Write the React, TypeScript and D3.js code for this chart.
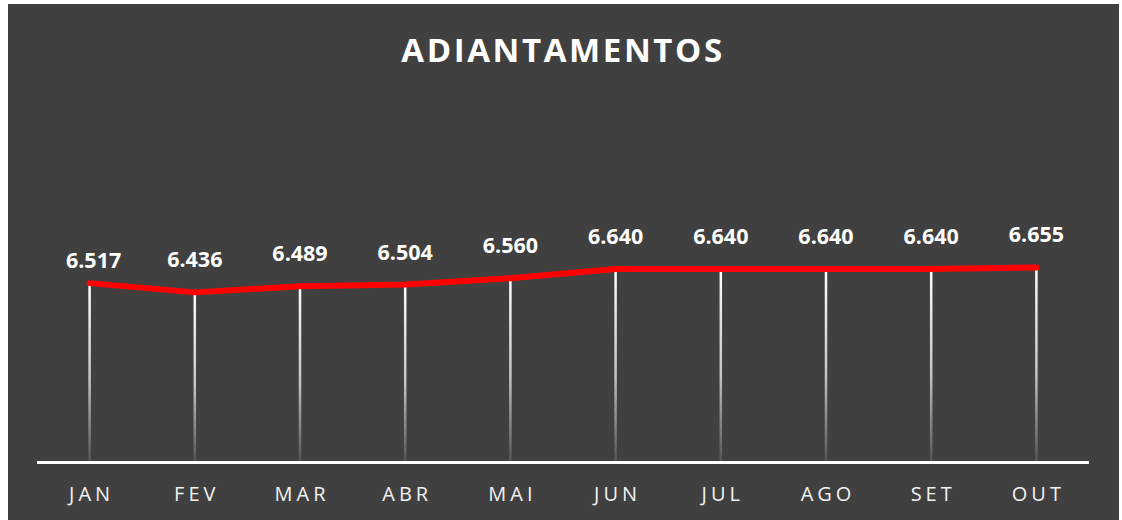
import React, { useEffect, useRef } from 'react';
import * as d3 from 'd3';

const months = ['JAN', 'FEV', 'MAR', 'ABR', 'MAI', 'JUN', 'JUL', 'AGO', 'SET', 'OUT'];
const values = [6.517, 6.436, 6.489, 6.504, 6.56, 6.64, 6.64, 6.64, 6.64, 6.655];
const yDomain = [4.95, 7];

const W = 1122;
const H = 520;

const App = () => {
  const svgRef = useRef<SVGSVGElement>(null);

  useEffect(() => {
    const svg = d3.select(svgRef.current);
    svg.selectAll('*').remove();

    const fmt = d3.format('.3f');

    // chart background (page is offset a bit, like the original export)
    svg.append('rect')
      .attr('x', 8).attr('y', 4)
      .attr('width', 1111).attr('height', H - 4)
      .attr('fill', '#404040');

    const defs = svg.append('defs');
    const grad = defs.append('linearGradient')
      .attr('id', 'dropGrad')
      .attr('x1', 0).attr('y1', 0).attr('x2', 0).attr('y2', 1);
    grad.append('stop').attr('offset', '0%').attr('stop-color', '#ffffff');
    grad.append('stop').attr('offset', '55%').attr('stop-color', '#c4c4c4');
    grad.append('stop').attr('offset', '100%').attr('stop-color', '#555555');

    const x = d3.scaleBand<string>()
      .domain(months)
      .range([37, 1089]);

    const y = d3.scaleLinear()
      .domain(yDomain)
      .range([462, 228]);

    const cx = (m: string) => (x(m) ?? 0) + x.bandwidth() / 2;

    // title
    svg.append('text')
      .attr('x', 563)
      .attr('y', 62)
      .attr('text-anchor', 'middle')
      .style('font', 'bold 33px "Open Sans", sans-serif')
      .style('letter-spacing', '2.6px')
      .attr('fill', '#ffffff')
      .text('ADIANTAMENTOS');

    // drop lines
    svg.append('g')
      .selectAll('rect')
      .data(values)
      .join('rect')
      .attr('x', (d, i) => cx(months[i]) - 1.25)
      .attr('y', d => y(d))
      .attr('width', 2.5)
      .attr('height', d => 461 - y(d))
      .attr('fill', 'url(#dropGrad)');

    // axis line
    svg.append('line')
      .attr('x1', 37).attr('x2', 1089)
      .attr('y1', 462.5).attr('y2', 462.5)
      .attr('stroke', '#ffffff')
      .attr('stroke-width', 3);

    // month labels
    svg.append('g')
      .selectAll('text')
      .data(months)
      .join('text')
      .attr('x', d => cx(d) + 2)
      .attr('y', 501)
      .attr('text-anchor', 'middle')
      .style('font', '20px "Open Sans", sans-serif')
      .style('letter-spacing', '4px')
      .attr('fill', '#f2f2f2')
      .text(d => d);

    // red line
    const line = d3.line<number>()
      .x((d, i) => cx(months[i]))
      .y(d => y(d));

    svg.append('path')
      .datum(values)
      .attr('d', line)
      .attr('fill', 'none')
      .attr('stroke', '#ff0000')
      .attr('stroke-width', 6)
      .attr('stroke-linejoin', 'round')
      .attr('stroke-linecap', 'round');

    // value labels
    svg.append('g')
      .selectAll('text')
      .data(values)
      .join('text')
      .attr('x', (d, i) => cx(months[i]) + (i === 0 ? 4 : 0))
      .attr('y', (d, i) => y(d) - (i === 0 ? 15 : 25))
      .attr('text-anchor', 'middle')
      .style('font', 'bold 21.5px "Open Sans", sans-serif')
      .attr('fill', '#ffffff')
      .text(d => fmt(d));
  }, []);

  return (
    <svg
      ref={svgRef}
      width={W}
      height={H}
      style={{ position: 'absolute', left: 0, top: 0, display: 'block' }}
    />
  );
};

export default App;
